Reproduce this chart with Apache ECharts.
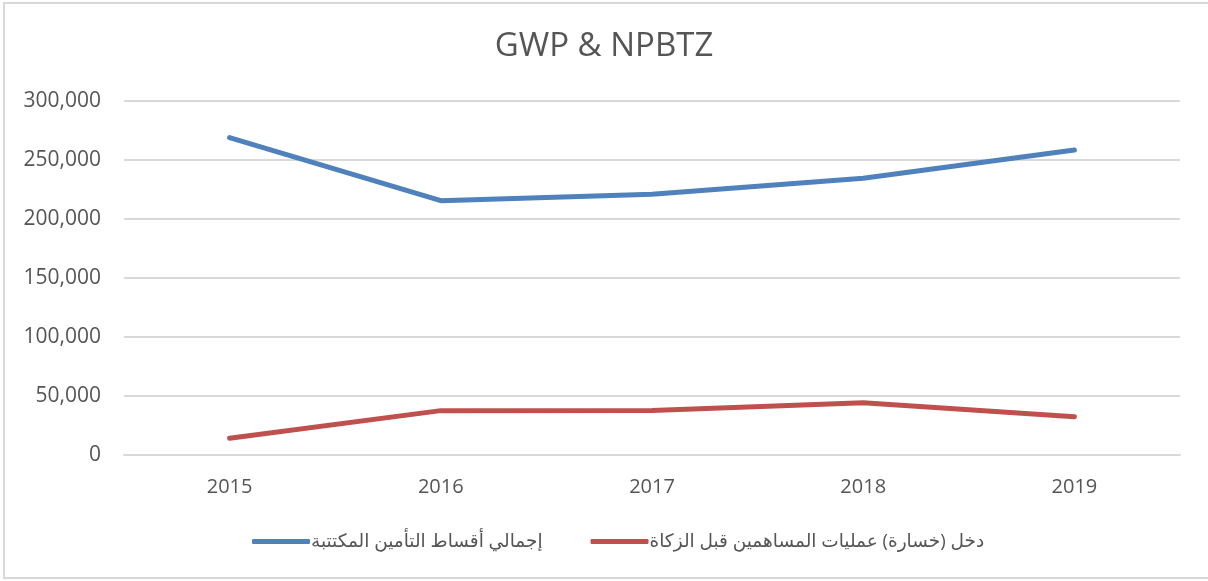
<!DOCTYPE html>
<html style="height: 100%">
	<head>
		<meta charset="utf-8">
	</head>
	<body style="height: 100%; margin: 0; background: #fff">
		<div id="container" style="position: absolute; left: 0; top: 0; width: 1208px; height: 581px"></div>
		<div style="position: absolute; left: 3px; top: 2px; width: 1220px; height: 573px; border: 2px solid #d9d9d9; pointer-events: none"></div>

		<script type="text/javascript" src="https://cdn.jsdelivr.net/npm/echarts@6/dist/echarts.min.js"></script>
		<script type="text/javascript">
			var dom = document.getElementById("container");
			var myChart = echarts.init(dom);

			var option;

			// years on the x axis
			const years = ['2015', '2016', '2017', '2018', '2019'];
			// series names (Arabic, as in the legend)
			const gwpName = 'إجمالي أقساط التأمين المكتتبة';
			const npbtzName = 'دخل (خسارة) عمليات المساهمين قبل الزكاة';
			// values
			const gwpData = [269000, 215500, 221000, 234500, 258500];
			const npbtzData = [14200, 37600, 37700, 44300, 32400];

			const fontFamily = '"Open Sans", "DejaVu Sans", sans-serif';
			const textColor = '#555555';

			option = {
				animation: false,
				title: {
					text: 'GWP & NPBTZ',
					left: 'center',
					top: 25,
					textStyle: {
						fontFamily: fontFamily,
						fontSize: 33,
						fontWeight: 'normal',
						color: textColor
					}
				},
				legend: {
					data: [gwpName, npbtzName],
					left: 247,
					top: 527,
					icon: 'roundRect',
					itemWidth: 58,
					itemHeight: 5,
					itemGap: 48,
					textStyle: {
						fontFamily: fontFamily,
						fontSize: 18.5,
						color: textColor,
						padding: [0, 0, 0, -4]
					}
				},
				grid: {
					left: 124,
					right: 28,
					top: 101,
					bottom: 126,
					containLabel: false
				},
				xAxis: {
					type: 'category',
					data: years,
					boundaryGap: true,
					axisLine: { show: true, lineStyle: { color: '#d9d9d9', width: 2 } },
					axisTick: { show: false },
					axisLabel: {
						margin: 22,
						fontFamily: fontFamily,
						fontSize: 20,
						color: textColor
					}
				},
				yAxis: {
					type: 'value',
					min: 0,
					max: 300000,
					interval: 50000,
					axisLine: { show: false },
					axisTick: { show: false },
					splitLine: { lineStyle: { color: '#d9d9d9', width: 2 } },
					axisLabel: {
						margin: 23,
						fontFamily: fontFamily,
						fontSize: 21,
						color: textColor,
						formatter: function (v) {
							return v.toString().replace(/\B(?=(\d{3})+(?!\d))/g, ',');
						}
					}
				},
				series: [
					{
						name: gwpName,
						type: 'line',
						data: gwpData,
						symbol: 'none',
						itemStyle: { color: '#4f81bd' },
						lineStyle: { color: '#4f81bd', width: 5, cap: 'round', join: 'round' }
					},
					{
						name: npbtzName,
						type: 'line',
						data: npbtzData,
						symbol: 'none',
						itemStyle: { color: '#c0504d' },
						lineStyle: { color: '#c0504d', width: 5, cap: 'round', join: 'round' }
					}
				]
			};

			if (option && typeof option === 'object') {
				myChart.setOption(option);
			}
		</script>
	</body>
</html>
